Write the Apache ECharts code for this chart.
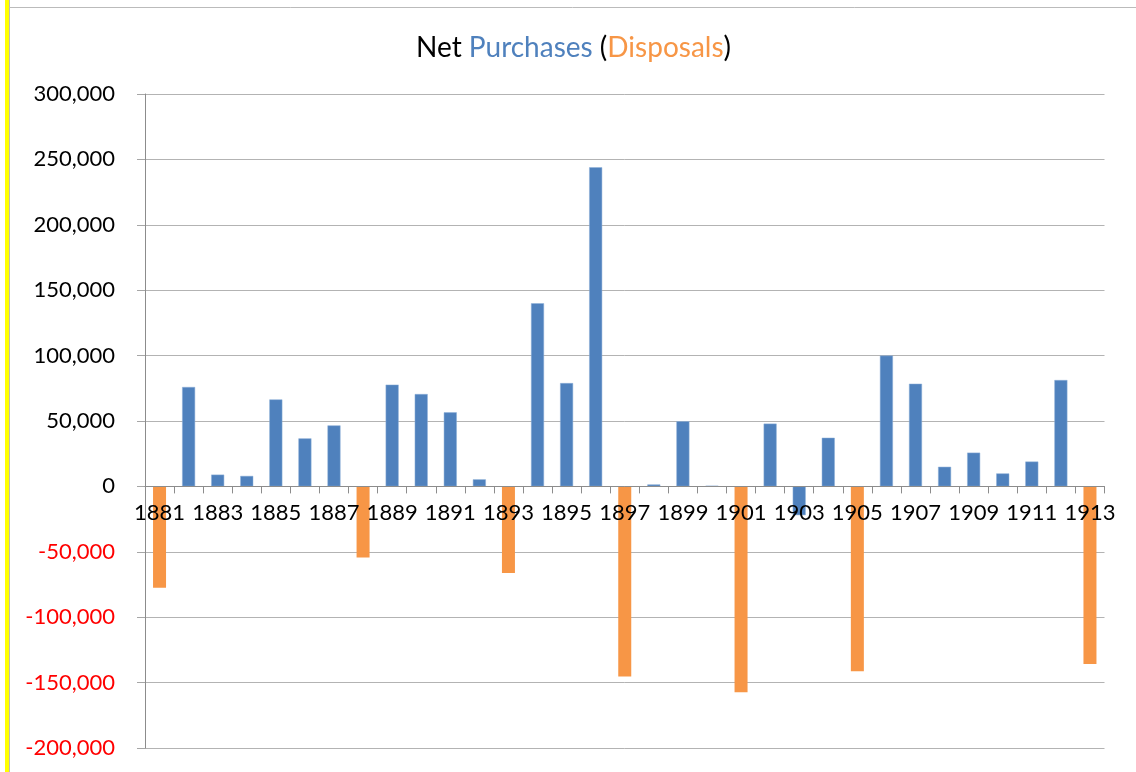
<!DOCTYPE html>
<html>
<head>
<meta charset="utf-8">
<script src="https://cdn.jsdelivr.net/npm/echarts@6/dist/echarts.min.js"></script>
<style>
html,body{margin:0;padding:0;background:#fff;}
#chart{width:1136px;height:772px;}
</style>
</head>
<body>
<div id="chart"></div>
<script>
const years = ['1881','1882','1883','1884','1885','1886','1887','1888','1889','1890','1891','1892','1893','1894','1895','1896','1897','1898','1899','1900','1901','1902','1903','1904','1905','1906','1907','1908','1909','1910','1911','1912','1913'];
const purchases = ['-',76000,9000,8000,66500,36700,46600,'-',77800,70600,56600,5400,'-',140000,79000,244000,'-',1500,49800,500,'-',48000,-22000,37200,'-',100000,78500,15000,25800,9900,19000,81300,'-'];
const disposals = [-77400,'-','-','-','-','-','-',-54300,'-','-','-','-',-66300,'-','-','-',-145400,'-','-','-',-157300,'-','-','-',-141300,'-','-','-','-','-','-','-',-135800];
const yTicks = {min:-200000, max:300000, interval:50000};

const GRID_TOP = 94, GRID_BOTTOM = 24, H = 772;
const plotH = H - GRID_TOP - GRID_BOTTOM;
// axis sits at value 0: distance from grid bottom
const zeroOffset = -plotH * (0 - yTicks.min) / (yTicks.max - yTicks.min);

const chart = echarts.init(document.getElementById('chart'));
const FONT = 'Lato';
chart.setOption({
  animation:false,
  backgroundColor:'#fff',
  title:{
    text:'{k|Net }{b|Purchases}{k| (}{o|Disposals}{k|)}',
    left:411, top:29,
    textStyle:{
      fontWeight:'normal',
      rich:{
        k:{color:'#000',fontSize:28,fontFamily:FONT,fontWeight:'normal'},
        b:{color:'#4F81BD',fontSize:28,fontFamily:FONT,fontWeight:'normal'},
        o:{color:'#F79646',fontSize:28,fontFamily:FONT,fontWeight:'normal'}
      }
    }
  },
  graphic:[
    {type:'rect',shape:{x:5,y:0,width:4,height:772},style:{fill:'#FFFF00'},z:10},
    {type:'line',shape:{x1:9.5,y1:0,x2:9.5,y2:772},style:{stroke:'#bbbbbb',lineWidth:1},z:10},
    {type:'line',shape:{x1:9,y1:7.5,x2:1136,y2:7.5},style:{stroke:'#bbbbbb',lineWidth:1},z:10}
  ],
  grid:{left:145,right:31.5,top:GRID_TOP,bottom:GRID_BOTTOM,containLabel:false,outerBoundsMode:'none'},
  xAxis:{
    type:'category',
    data:years,
    offset:zeroOffset,
    axisLine:{onZero:false,lineStyle:{color:'#8c8c8c',width:1}},
    axisTick:{show:true,interval:0,length:7,lineStyle:{color:'#8c8c8c'}},
    axisLabel:{interval:1,color:'#000',fontSize:22,fontFamily:FONT,margin:16},
    z:5
  },
  yAxis:{
    type:'value',
    min:yTicks.min,max:yTicks.max,interval:yTicks.interval,
    axisLine:{show:true,lineStyle:{color:'#8c8c8c'}},
    axisTick:{show:true,length:8,lineStyle:{color:'#a6a6a6'}},
    splitLine:{lineStyle:{color:'#b3b3b3',width:1}},
    axisLabel:{
      fontSize:22,fontFamily:FONT,margin:30,
      formatter:v=>v.toLocaleString('en-US'),
      color:v=>(Number(v)<0?'#FF0000':'#000')
    }
  },
  series:[
    {name:'Net Purchases',type:'bar',data:purchases,barWidth:13,barGap:'-100%',
     itemStyle:{color:'#4F81BD',borderColor:'#8fb0d8',borderWidth:0.5}},
    {name:'Disposals',type:'bar',data:disposals,barWidth:13,
     itemStyle:{color:'#F79646'}}
  ]
});
</script>
</body>
</html>
